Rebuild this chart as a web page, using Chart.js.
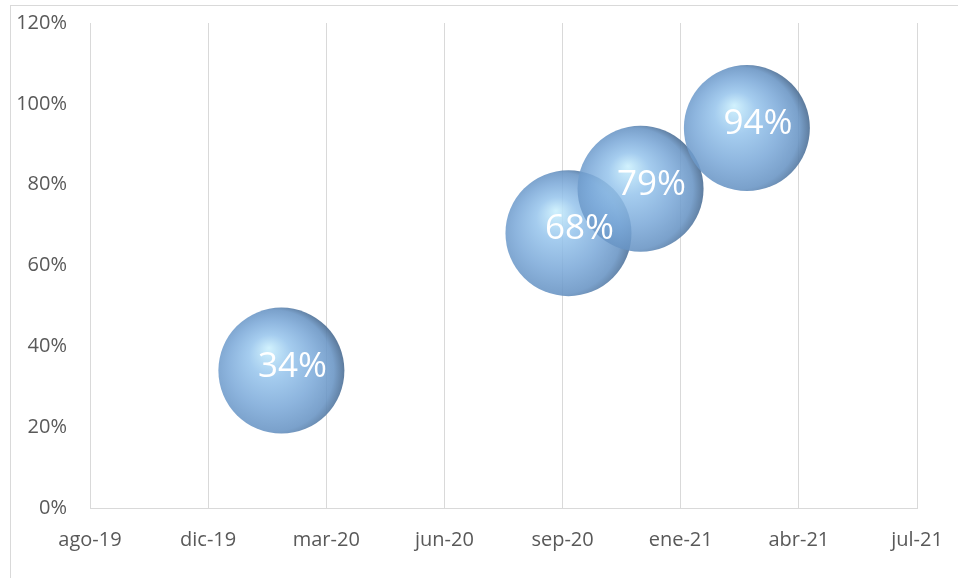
<!DOCTYPE html>
<html>
<head>
<meta charset="utf-8">
<script src="https://cdn.jsdelivr.net/npm/chart.js@4/dist/chart.umd.min.js"></script>
<style>
  html, body { margin: 0; padding: 0; background: #fff; }
  #wrap { width: 958px; height: 578px; position: relative; }
</style>
</head>
<body>
<div id="wrap"><canvas id="c"></canvas></div>
<script>
(function () {
  "use strict";

  // data
  var pointDates = ["2020-02-01", "2020-10-01", "2020-12-01", "2021-03-01"];
  var pointValues = [34, 68, 79, 94];
  var xStart = "2019-08-23";
  var xStepDays = 100;
  var xTickLabels = ["ago-19", "dic-19", "mar-20", "jun-20", "sep-20", "ene-21", "abr-21", "jul-21"];
  var yTicks = [0, 20, 40, 60, 80, 100, 120];

  function dayOf(s) {
    return Math.round(Date.parse(s + "T00:00:00Z") / 86400000);
  }

  var x0 = dayOf(xStart);
  var tickDays = xTickLabels.map(function (_, i) { return x0 + i * xStepDays; });

  var points = pointDates.map(function (d, i) {
    return { x: dayOf(d), y: pointValues[i] };
  });

  var FONT = "'Open Sans', 'Liberation Sans', sans-serif";
  var GRID = "#d9d9d9";

  function sphere(ctx) {
    var flat = "rgba(120,165,215,0.85)";
    if (ctx.type !== "data" || !ctx.raw) return flat;
    var chart = ctx.chart;
    var sx = chart.scales.x, sy = chart.scales.y;
    if (!sx || !sy) return flat;
    var cx = sx.getPixelForValue(ctx.raw.x);
    var cy = sy.getPixelForValue(ctx.raw.y);
    if (!isFinite(cx) || !isFinite(cy)) return flat;
    var r = 63;
    var g = chart.ctx.createRadialGradient(cx - r * 0.2, cy - r * 0.36, 0, cx - r * 0.12, cy + r * 0.06, r * 1.12);
    g.addColorStop(0, "rgba(204,240,253,0.9)");
    g.addColorStop(0.3, "rgba(150,196,236,0.86)");
    g.addColorStop(0.62, "rgba(122,168,216,0.86)");
    g.addColorStop(0.86, "rgba(104,148,196,0.88)");
    g.addColorStop(1, "rgba(76,110,148,0.9)");
    return g;
  }

  var frame = {
    id: "frame",
    beforeDraw: function (chart) {
      var c = chart.ctx;
      c.save();
      c.fillStyle = "#fff";
      c.fillRect(0, 0, chart.width, chart.height);
      c.strokeStyle = GRID;
      c.lineWidth = 1;
      c.strokeRect(10.5, 5.5, chart.width + 20, chart.height + 20);
      c.restore();
    }
  };

  var bubbleLabels = {
    id: "bubbleLabels",
    afterDatasetsDraw: function (chart) {
      var meta = chart.getDatasetMeta(0);
      var c = chart.ctx;
      c.save();
      c.fillStyle = "#ffffff";
      c.font = "35px " + FONT;
      c.textAlign = "center";
      c.textBaseline = "middle";
      meta.data.forEach(function (el, i) {
        c.fillText(pointValues[i] + "%", el.x + 11, el.y - 4);
      });
      c.restore();
    }
  };

  new Chart(document.getElementById("c").getContext("2d"), {
    type: "bubble",
    data: {
      datasets: [{
        data: points,
        radius: 63,
        hoverRadius: 0,
        borderWidth: 0,
        backgroundColor: sphere,
        hoverBackgroundColor: sphere,
        clip: false
      }]
    },
    options: {
      responsive: true,
      maintainAspectRatio: false,
      animation: false,
      events: [],
      layout: { autoPadding: false, padding: { top: 23, right: 41, left: 0, bottom: 0 } },
      plugins: {
        legend: { display: false },
        tooltip: { enabled: false }
      },
      scales: {
        x: {
          type: "linear",
          min: tickDays[0],
          max: tickDays[tickDays.length - 1],
          afterBuildTicks: function (scale) {
            scale.ticks = tickDays.map(function (v) { return { value: v }; });
          },
          afterFit: function (scale) {
            scale.height = 70;
            scale.paddingLeft = 0;
            scale.paddingRight = 0;
          },
          grid: { display: true, color: GRID, lineWidth: 1, drawTicks: false },
          border: { display: true, color: GRID, width: 1 },
          ticks: {
            padding: 20,
            color: "#595959",
            font: { family: FONT, size: 20 },
            maxRotation: 0,
            autoSkip: false,
            callback: function (v, i) { return xTickLabels[i]; }
          }
        },
        y: {
          min: yTicks[0],
          max: yTicks[yTicks.length - 1],
          afterBuildTicks: function (scale) {
            scale.ticks = yTicks.map(function (v) { return { value: v }; });
          },
          afterFit: function (scale) {
            scale.width = 90;
            scale.paddingTop = 0;
            scale.paddingBottom = 0;
          },
          grid: { display: false, drawTicks: false },
          border: { display: false },
          ticks: {
            padding: 23,
            color: "#595959",
            font: { family: FONT, size: 20 },
            callback: function (v) { return v + "%"; }
          }
        }
      }
    },
    plugins: [frame, bubbleLabels]
  });
})();
</script>
</body>
</html>
